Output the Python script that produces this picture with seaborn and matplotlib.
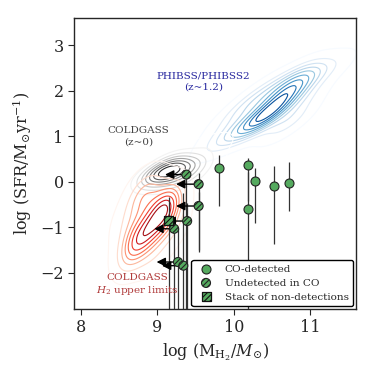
import numpy as np
import pandas as pd
import matplotlib
matplotlib.use('Agg')
import matplotlib.pyplot as plt
import seaborn as sns

# ---- data ----
# KDE anchor points for each population and their weights
phibss_x = [10.41, 10.66, 10.78, 10.1, 9.8, 11.0, 11.3, 10.2, 10.7, 10.45, 10.9, 9.95]
phibss_y = [1.44, 1.88, 2.25, 1.15, 0.9, 2.3, 2.5, 1.7, 1.3, 2.05, 1.8, 1.35]
phibss_w = [6, 4.5, 2.5, 2, 1, 1.5, 0.6, 1.5, 1.5, 1, 1, 0.7]

cold_x = [9.12, 9.3, 8.95, 9.2, 9.2, 9.5, 9.7, 8.85, 9.45]
cold_y = [0.23, 0.25, 0.15, 0.5, -0.05, 0.35, 0.8, -0.15, 0.05]
cold_w = [6, 3, 2, 1.5, 1.5, 1.5, 0.8, 0.8, 0.8]

lim_x = [9.12, 9.0, 8.85, 8.73, 8.65, 8.8, 8.6, 9.2, 8.95, 8.95]
lim_y = [-0.54, -0.85, -1.1, -1.3, -1.6, -0.32, -0.9, -1.0, -1.6, -0.2]
lim_w = [5.5, 3, 3, 3, 1.5, 2.5, 1, 1, 1, 1]

# CO-detected galaxies
det_x = [9.81, 10.18, 10.18, 10.28, 10.53, 10.72]
det_y = [0.30, 0.37, -0.59, 0.03, -0.09, -0.02]
det_lo = [0.84, 0.80, 2.3, 0.94, 1.28, 0.61]
det_hi = [0.29, 0.15, 0.80, 0.27, 0.43, 0.45]

# undetected in CO (upper limits in M_H2)
und_x = [9.38, 9.54, 9.54, 9.39, 9.22, 9.27, 9.34]
und_y = [0.16, -0.05, -0.53, -0.86, -1.03, -1.76, -1.84]
und_lo = [3.0, 1.45, 1.0, 2.0, 2.0, 1.2, 1.0]
und_hi = [0.05, 0.25, 0.3, 0.4, 0.1, 0.75, 1.6]
und_tip = [9.10, 9.245, 9.245, 9.12, 8.96, 8.99, 9.06]

# stack of non-detections
stk_x = [9.15]
stk_y = [-0.84]
stk_lo = [2.0]
stk_hi = [0.5]

green = '#55aa5f'

sns.set_style('ticks')
plt.rcParams['font.family'] = ['DejaVu Serif']
plt.rcParams['mathtext.fontset'] = 'dejavuserif'
plt.rcParams['hatch.linewidth'] = 0.8

fig = plt.figure(figsize=(3.74, 3.74), dpi=100)
ax = fig.add_axes([0.198, 0.174, 0.754, 0.778])

sns.kdeplot(x=phibss_x, y=phibss_y, weights=phibss_w, cmap='Blues', levels=10,
            thresh=0.03, bw_adjust=0.95, linewidths=0.8, ax=ax)
sns.kdeplot(x=cold_x, y=cold_y, weights=cold_w, cmap='Greys', levels=9,
            thresh=0.03, bw_adjust=1.25, linewidths=0.8, ax=ax)
sns.kdeplot(x=lim_x, y=lim_y, weights=lim_w, cmap='Reds', levels=9,
            thresh=0.03, bw_adjust=1.1, linewidths=0.8, ax=ax)

# error bars
ax.errorbar(det_x, det_y, yerr=[det_lo, det_hi], fmt='none', ecolor='#333333', elinewidth=0.9, zorder=3)
ax.errorbar(und_x, und_y, yerr=[und_lo, und_hi], fmt='none', ecolor='#333333', elinewidth=0.9, zorder=3)
ax.errorbar(stk_x, stk_y, yerr=[stk_lo, stk_hi], fmt='none', ecolor='#333333', elinewidth=0.9, zorder=3)

# upper-limit arrows
for x0, y0, xt in zip(und_x, und_y, und_tip):
    ax.annotate('', xy=(xt, y0), xytext=(x0, y0),
                arrowprops=dict(arrowstyle='-|>', color='k', lw=1, mutation_scale=13,
                                shrinkA=0, shrinkB=0), zorder=4)

sns.scatterplot(x=det_x, y=det_y, s=42, color=green, edgecolor='#222222', linewidth=0.8,
                zorder=5, ax=ax, label='CO-detected')
sns.scatterplot(x=und_x, y=und_y, s=42, color=green, edgecolor='#222222', linewidth=0.8,
                hatch='//////', zorder=5, ax=ax, label='Undetected in CO')
sns.scatterplot(x=stk_x, y=stk_y, s=42, marker='s', color=green, edgecolor='#111111', linewidth=0.9,
                hatch='//////', zorder=6, ax=ax, label='Stack of non-detections')

ax.text(9.6, 2.21, 'PHIBSS/PHIBSS2\n(z~1.2)', color='#2a2aa0', fontsize=7.5,
        ha='center', va='center', linespacing=1.25)
ax.text(8.75, 1.0, 'COLDGASS\n(z~0)', color='#444444', fontsize=7.5,
        ha='center', va='center', linespacing=1.25)
ax.text(8.74, -2.27, 'COLDGASS\n$H_2$ upper limits', color='#b03a3a', fontsize=7.5,
        ha='center', va='center', linespacing=1.25)

ax.set_xlim(7.91, 11.6)
ax.set_ylim(-2.79, 3.6)
ax.set_xticks([8, 9, 10, 11])
ax.set_yticks([-2, -1, 0, 1, 2, 3])
ax.tick_params(labelsize=11.5, direction='out', length=4)
ax.set_xlabel(r'log (M$_{\rm H_2}$/$M_{\odot}$)', fontsize=11.5)
ax.set_ylabel(r'log (SFR/M$_{\odot}$yr$^{-1}$)', fontsize=11.5)
for s in ax.spines.values():
    s.set_linewidth(1.0)

leg = ax.legend(loc='lower right', fontsize=7.5, frameon=True, borderaxespad=0.3,
                handletextpad=0.8, borderpad=0.4, labelspacing=0.45)
leg.get_frame().set_edgecolor('k')
leg.get_frame().set_linewidth(1.0)
leg.get_frame().set_alpha(1)

fig.savefig('out.png', dpi=100)
